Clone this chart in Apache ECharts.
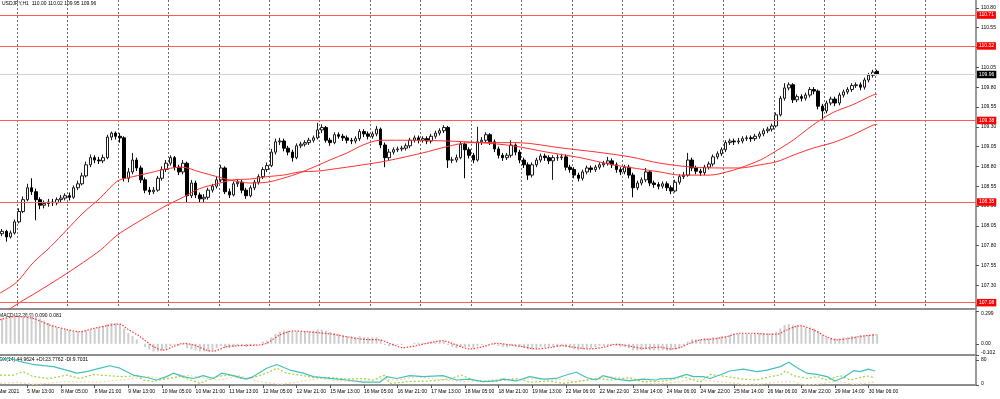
<!DOCTYPE html>
<html><head><meta charset="utf-8">
<script src="https://cdn.jsdelivr.net/npm/echarts@6/dist/echarts.min.js"></script>
<style>html,body{margin:0;padding:0;background:#fff;}#c{width:1000px;height:399px;}</style>
</head><body><div id="c"></div>
<script>
// ---------- texts ----------
const symbolTitle = 'USDJPY,H1  110.00 110.02 109.95 109.96';
const macdTitle = 'MACD(12,26,9) 0.090 0.081';
const dmiTitle = 'ADX(14) 44.9624 +DI:23.7762 -DI:9.7031';
const firstDateLabel = '4 Mar 2021';
const tickLabels = ["5 Mar 13:00","8 Mar 05:00","8 Mar 21:00","9 Mar 13:00","10 Mar 05:00","10 Mar 21:00","11 Mar 13:00","12 Mar 05:00","12 Mar 21:00","15 Mar 13:00","16 Mar 05:00","16 Mar 21:00","17 Mar 13:00","18 Mar 05:00","18 Mar 21:00","19 Mar 13:00","22 Mar 06:00","22 Mar 22:00","23 Mar 14:00","24 Mar 06:00","24 Mar 22:00","25 Mar 14:00","26 Mar 06:00","26 Mar 22:00","29 Mar 14:00","30 Mar 06:00"];
const priceTicks = [107.05,107.30,107.55,107.80,108.05,108.30,108.55,108.80,109.05,109.30,109.55,109.80,110.05,110.30,110.55,110.80];
const macdTicks = [-0.102, 0, 0.299];
const dmiTicks = [0, 80];
const levels = [110.71, 110.32, 109.38, 108.35, 107.08];
const lastPrice = 109.96;

// ---------- price candles (2-hour slots) ----------
const opens = [107.95,107.98,107.91,107.96,108.10,108.23,108.38,108.53,108.48,108.38,
108.31,108.33,108.35,108.34,108.38,108.40,108.43,108.41,108.53,108.58,
108.68,108.82,108.91,108.88,108.87,108.91,109.17,109.22,109.18,109.16,
108.65,108.73,108.88,108.78,108.63,108.50,108.48,108.50,108.65,108.76,
108.84,108.91,108.79,108.73,108.84,108.43,108.59,108.44,108.39,108.41,
108.50,108.55,108.63,108.78,108.48,108.44,108.58,108.60,108.50,108.43,
108.53,108.60,108.67,108.76,108.81,108.98,109.11,109.12,109.03,108.98,
108.91,109.06,109.08,109.10,109.13,109.16,109.26,109.29,109.13,109.10,
109.20,109.18,109.16,109.13,109.12,109.15,109.24,109.21,109.18,109.21,
109.27,109.07,108.91,108.98,109.01,109.02,109.03,109.06,109.13,109.16,
109.13,109.15,109.12,109.18,109.22,109.25,109.29,108.88,108.88,108.91,
109.08,109.01,108.94,108.88,109.11,109.13,109.20,109.11,109.02,108.94,
108.91,108.94,109.07,108.98,108.88,108.82,108.69,108.82,108.88,108.93,
108.91,108.87,108.91,108.91,108.92,108.79,108.76,108.69,108.65,108.73,
108.78,108.76,108.79,108.82,108.84,108.87,108.82,108.76,108.73,108.79,
108.69,108.53,108.59,108.63,108.73,108.59,108.57,108.55,108.58,108.53,
108.49,108.60,108.67,108.69,108.88,108.78,108.74,108.72,108.79,108.83,
108.92,108.96,109.01,109.10,109.12,109.11,109.12,109.15,109.16,109.15,
109.18,109.21,109.25,109.27,109.31,109.45,109.66,109.79,109.83,109.64,
109.68,109.66,109.70,109.77,109.75,109.56,109.50,109.60,109.65,109.60,
109.70,109.74,109.77,109.82,109.83,109.80,109.89,109.95,110.00];
const closes = [107.98,107.91,107.96,108.10,108.23,108.38,108.53,108.48,108.38,108.31,
108.33,108.35,108.34,108.38,108.40,108.43,108.41,108.53,108.58,108.68,
108.82,108.91,108.88,108.87,108.91,109.17,109.22,109.18,109.16,108.65,
108.73,108.88,108.78,108.63,108.50,108.48,108.50,108.65,108.76,108.84,
108.91,108.79,108.73,108.84,108.43,108.59,108.44,108.39,108.41,108.50,
108.55,108.63,108.78,108.48,108.44,108.58,108.60,108.50,108.43,108.53,
108.60,108.67,108.76,108.81,108.98,109.11,109.12,109.03,108.98,108.91,
109.06,109.08,109.10,109.13,109.16,109.26,109.29,109.13,109.10,109.20,
109.18,109.16,109.13,109.12,109.15,109.24,109.21,109.18,109.21,109.27,
109.07,108.91,108.98,109.01,109.02,109.03,109.06,109.13,109.16,109.13,
109.15,109.12,109.18,109.22,109.25,109.29,108.88,108.88,108.91,109.08,
109.01,108.94,108.88,109.11,109.13,109.20,109.11,109.02,108.94,108.91,
108.94,109.07,108.98,108.88,108.82,108.69,108.82,108.88,108.93,108.91,
108.87,108.91,108.91,108.92,108.79,108.76,108.69,108.65,108.73,108.78,
108.76,108.79,108.82,108.84,108.87,108.82,108.76,108.73,108.79,108.69,
108.53,108.59,108.63,108.73,108.59,108.57,108.55,108.58,108.53,108.49,
108.60,108.67,108.69,108.88,108.78,108.74,108.72,108.79,108.83,108.92,
108.96,109.01,109.10,109.12,109.11,109.12,109.15,109.16,109.15,109.18,
109.21,109.25,109.27,109.31,109.45,109.66,109.79,109.83,109.64,109.68,
109.66,109.70,109.77,109.75,109.56,109.50,109.60,109.65,109.60,109.70,
109.74,109.77,109.82,109.83,109.80,109.89,109.95,109.99,109.96];
const lows = [107.92,107.85,107.89,107.94,108.08,108.21,108.36,108.44,108.12,108.26,
108.27,108.29,108.30,108.31,108.34,108.37,108.37,108.39,108.50,108.56,
108.66,108.79,108.84,108.83,108.84,108.89,109.13,109.14,109.10,108.61,
108.60,108.70,108.74,108.59,108.46,108.44,108.45,108.48,108.62,108.73,
108.81,108.75,108.69,108.70,108.34,108.40,108.40,108.35,108.35,108.38,
108.47,108.52,108.60,108.45,108.40,108.42,108.54,108.46,108.39,108.41,
108.50,108.57,108.64,108.73,108.79,108.95,109.07,108.99,108.94,108.86,
108.89,109.03,109.05,109.07,109.10,109.14,109.22,109.10,109.06,109.08,
109.15,109.12,109.09,109.08,109.09,109.12,109.17,109.14,109.15,109.18,
109.03,108.79,108.88,108.95,108.98,108.99,109.00,109.03,109.10,109.09,
109.10,109.08,109.09,109.15,109.19,109.22,108.78,108.84,108.85,108.89,
108.65,108.90,108.84,108.86,109.07,109.10,109.07,108.98,108.90,108.87,
108.88,108.91,108.94,108.84,108.78,108.63,108.66,108.79,108.85,108.87,
108.83,108.63,108.87,108.88,108.75,108.72,108.65,108.61,108.62,108.70,
108.72,108.73,108.76,108.79,108.81,108.78,108.72,108.69,108.70,108.65,
108.41,108.50,108.56,108.60,108.55,108.53,108.51,108.52,108.49,108.45,
108.47,108.57,108.64,108.67,108.74,108.70,108.68,108.69,108.76,108.80,
108.89,108.93,108.98,109.07,109.07,109.08,109.09,109.12,109.11,109.12,
109.15,109.18,109.22,109.24,109.29,109.43,109.63,109.76,109.60,109.61,
109.62,109.63,109.67,109.71,109.52,109.39,109.47,109.57,109.56,109.57,
109.67,109.71,109.74,109.79,109.76,109.77,109.86,109.92,109.95];
const highs = [108.01,108.00,107.99,108.13,108.27,108.42,108.58,108.65,108.52,108.41,
108.37,108.39,108.39,108.41,108.44,108.46,108.47,108.56,108.62,108.72,
108.86,108.95,108.94,108.92,108.95,109.20,109.24,109.24,109.22,109.18,
108.78,108.97,108.91,108.81,108.66,108.54,108.54,108.68,108.80,108.88,
108.94,108.93,108.82,108.88,108.86,108.63,108.62,108.47,108.45,108.53,
108.58,108.67,108.82,108.80,108.52,108.61,108.64,108.63,108.53,108.56,
108.63,108.70,108.79,108.85,109.02,109.15,109.16,109.15,109.06,109.01,
109.09,109.11,109.13,109.16,109.19,109.35,109.33,109.31,109.16,109.23,
109.23,109.21,109.19,109.16,109.18,109.27,109.27,109.24,109.24,109.31,
109.29,109.10,109.02,109.04,109.05,109.06,109.09,109.16,109.19,109.19,
109.18,109.18,109.21,109.25,109.28,109.32,109.31,108.92,108.95,109.11,
109.10,109.04,108.97,109.30,109.17,109.23,109.22,109.14,109.05,108.97,
108.97,109.13,109.09,109.01,108.91,108.85,108.85,108.91,108.96,108.96,
108.94,108.94,108.95,108.96,108.95,108.82,108.79,108.72,108.76,108.81,
108.81,108.82,108.85,108.87,108.92,108.90,108.85,108.79,108.82,108.82,
108.72,108.62,108.66,108.78,108.75,108.62,108.60,108.61,108.61,108.56,
108.63,108.70,108.73,108.97,108.91,108.81,108.77,108.82,108.86,108.95,
108.99,109.04,109.13,109.15,109.15,109.16,109.18,109.19,109.19,109.21,
109.24,109.28,109.30,109.34,109.48,109.69,109.85,109.86,109.85,109.71,
109.71,109.73,109.80,109.80,109.77,109.59,109.63,109.68,109.68,109.73,
109.77,109.80,109.85,109.86,109.86,109.92,109.98,110.02,110.02];

// ---------- moving averages: [slot, price] ----------
const maFast = [[-0.5,107.20],[3.5,107.34],[7.3,107.58],[11.4,107.78],[15.4,108.00],[19.2,108.21],[23.3,108.40],[26.4,108.57],[28,108.63],[31.1,108.67],[35.2,108.72],[39.2,108.77],[42.8,108.79],[47,108.73],[51.1,108.67],[54.9,108.62],[58.9,108.59],[63,108.60],[66.8,108.65],[70.8,108.72],[74.9,108.81],[77.9,108.88],[82,108.97],[85.8,109.07],[89.8,109.13],[97.7,109.13],[105.8,109.12],[113.6,109.10],[121.4,109.06],[129.5,108.98],[137.4,108.91],[145.2,108.82],[156.4,108.73],[161.1,108.69],[168.3,108.69],[172.3,108.73],[175.4,108.78],[180.2,108.88],[183.2,108.97],[188,109.13],[192.7,109.32],[197.5,109.48],[202.3,109.58],[207,109.70],[208,109.71]];
const maSlow = [[-0.5,106.92],[5,107.11],[7.3,107.18],[15.4,107.45],[23.3,107.74],[27.3,107.93],[31.1,108.06],[35.2,108.19],[39.2,108.31],[43,108.41],[47,108.52],[51.1,108.58],[54.9,108.63],[58.9,108.64],[63,108.67],[66.8,108.69],[70.8,108.73],[74.9,108.74],[77.9,108.76],[85.8,108.82],[91.5,108.87],[100,108.97],[105.8,109.05],[111.2,109.10],[117.6,109.10],[122.4,109.10],[133.3,109.03],[141.4,108.98],[149.3,108.92],[156.4,108.84],[164.2,108.79],[170.6,108.78],[175.4,108.78],[180.2,108.82],[184.2,108.86],[188,108.94],[192.7,109.03],[197.5,109.10],[202.3,109.20],[207,109.32],[208,109.33]];

// ---------- MACD ----------
const macdMain = [0.23,0.23,0.24,0.25,0.25,0.26,0.27,0.27,
0.25,0.23,0.21,0.19,0.17,0.15,0.14,0.13,
0.12,0.11,0.11,0.11,0.12,
0.13,0.14,0.15,0.16,0.18,0.19,0.19,0.18,
0.14,0.10,0.07,0.04,
0.00,-0.03,-0.05,-0.07,-0.07,-0.06,
-0.04,-0.02,-0.01,-0.02,-0.01,-0.04,
-0.05,-0.06,-0.07,-0.07,-0.07,-0.06,
-0.04,-0.02,-0.04,-0.04,-0.03,
-0.02,-0.02,-0.03,-0.02,-0.01,0.00,0.02,0.03,
0.06,0.09,0.11,0.12,
0.12,0.11,0.11,0.11,0.11,0.11,0.12,0.13,0.13,0.12,0.11,
0.10,0.09,0.08,0.07,0.07,0.06,0.07,0.06,0.06,0.06,0.06,0.04,
-0.01,-0.02,-0.02,
-0.01,-0.01,0.00,0.00,0.01,0.01,0.01,0.01,0.02,0.02,0.03,0.03,
-0.01,-0.03,-0.04,-0.03,
-0.03,-0.03,-0.04,-0.02,-0.01,0.00,0.00,-0.01,-0.02,-0.03,-0.03,-0.02,-0.02,-0.03,-0.04,-0.05,
-0.05,-0.04,-0.03,-0.03,-0.03,-0.03,-0.02,-0.02,-0.03,-0.04,-0.05,-0.06,-0.05,-0.04,-0.04,-0.03,-0.02,-0.02,-0.01,-0.01,-0.02,-0.03,-0.03,-0.04,-0.06,-0.06,-0.06,-0.05,-0.06,-0.06,-0.06,
-0.06,-0.06,-0.06,-0.05,-0.04,
-0.02,0.02,0.04,
0.04,0.04,0.05,0.05,0.06,0.06,0.07,0.07,
0.08,0.09,0.09,0.09,0.09,0.09,0.09,0.10,0.10,0.10,0.10,0.11,
0.14,0.17,
0.18,0.17,0.17,0.16,
0.15,0.14,0.14,
0.11,0.08,0.06,0.05,
0.05,0.05,0.06,
0.06,0.07,0.07,0.08,0.08,0.08,0.09,0.09];
const macdSignal = [[-0.5,0.22],[3.5,0.25],[7.4,0.23],[11.4,0.17],[15.4,0.13],[18.5,0.11],[21.7,0.14],[24.9,0.165],[28,0.18],[29.6,0.14],[32.8,0.065],[36,-0.026],[38.3,-0.057],[40.7,-0.026],[43.1,0.005],[45.5,-0.01],[48.6,-0.057],[50.2,-0.066],[53.4,-0.026],[56.5,-0.017],[61.3,-0.01],[62.9,0.005],[66,0.08],[69.2,0.117],[72.4,0.11],[77.9,0.09],[81.8,0.065],[85.8,0.041],[89.8,0.035],[92.1,0.005],[95.3,-0.035],[98.5,-0.017],[101.6,0.01],[104.8,0.028],[106.4,0.012],[109.5,-0.032],[111.1,-0.047],[114.3,-0.026],[117.5,0.005],[120.6,-0.01],[123.8,-0.026],[127,-0.047],[130.1,-0.035],[133.3,-0.017],[136.5,-0.035],[139.6,-0.047],[142.8,-0.032],[146,-0.005],[149.1,-0.02],[152.3,-0.041],[156.4,-0.03],[158.8,-0.047],[161.1,-0.035],[163.5,0.005],[165.9,0.035],[169.1,0.044],[172.2,0.065],[175.4,0.096],[178.6,0.096],[181.8,0.087],[184.1,0.087],[186.5,0.126],[189.7,0.165],[192.9,0.126],[196,0.065],[198.4,0.035],[201.5,0.05],[204.7,0.071],[207.7,0.081]];

// ---------- ADX / DMI ----------
const adx = [[-0.5,80],[1.9,86],[4.3,75],[7.4,66],[9.8,62],[12.2,59],[15.3,48],[17.7,38],[20.1,43],[23.3,54],[25.6,62],[28,54],[31.2,32],[34.4,24],[36.7,16],[39.1,27],[40.7,38],[43.1,27],[45.5,21],[47.8,30],[50.2,21],[52.2,38],[55,30],[58.1,19],[59.7,27],[62.9,54],[65.3,66],[68.4,48],[71.6,38],[74,27],[77.9,21],[81.9,16],[85.8,9],[89.8,9],[91.4,27],[93.8,21],[96.9,30],[100.1,27],[104.8,30],[108,16],[111.1,19],[114.3,11],[117.5,13],[119.1,19],[122.2,13],[125.4,27],[128.6,19],[131.7,21],[134.1,32],[136.5,41],[138.9,24],[141.2,16],[142.8,30],[146,19],[149.1,13],[152.3,19],[155.5,16],[156.4,20],[159.6,21],[162.7,34],[164.3,27],[166.7,27],[168.3,21],[170.6,32],[173,45],[176.2,51],[179.4,43],[181.8,48],[185,59],[187,73],[188.9,56],[191.3,38],[193.7,34],[196.1,27],[198,13],[200,24],[202.4,46],[204,43],[205.9,51],[207.5,45]];
const plusDI = [[-0.5,32],[2.7,32],[5,43],[7.4,27],[11.4,21],[15.3,32],[18.5,21],[21.7,34],[24.9,30],[28.8,27],[32,30],[33.6,16],[36,11],[39.1,21],[42.3,27],[45.5,13],[47,5],[51,27],[54.2,32],[57.3,19],[59.7,24],[62.9,38],[65.3,54],[67.6,38],[70.8,32],[74,24],[77.9,24],[81.9,19],[85.8,21],[88.2,16],[91,32],[92.1,5],[96.9,11],[101.6,13],[106.4,19],[109.1,32],[111.9,16],[115.1,11],[119.8,16],[122.2,21],[125.4,9],[130.1,13],[133.3,5],[136.5,11],[141.2,21],[145.2,16],[149.1,24],[152.3,11],[156.4,12],[158.8,16],[161.9,27],[164.3,16],[165.9,9],[168.3,34],[172.2,27],[176.2,19],[179.4,16],[182.6,27],[185,32],[186.2,45],[188.1,30],[191.3,21],[193.7,27],[196.1,16],[199.2,30],[201.6,16],[204,24],[205.5,29],[207.5,23.8]];
const minusDI = [[-0.5,5],[3.5,9],[7.4,2],[15.3,11],[23.3,9],[31.2,21],[35.2,27],[39.1,19],[43.9,32],[48.6,21],[51.8,16],[56.5,30],[61.3,11],[66,2],[70.8,11],[75.6,21],[78,16],[82.7,11],[89.8,19],[93.8,16],[98.5,27],[101.6,21],[109.5,11],[114.3,13],[119.1,21],[122.2,16],[127,21],[130.1,16],[133.3,19],[136.5,9],[141.2,19],[144.4,27],[149.1,19],[153.9,5],[156.4,4],[160.4,9],[164.3,19],[168.3,13],[172.2,9],[176.2,2],[180.2,3],[184.1,9],[188.1,11],[190.5,1],[193.7,2],[197.7,11],[200,9],[202.4,2],[204.8,5],[207.5,9.7]];

// ---------- layout helpers ----------
const slotCount = 232;          // 2-hour slots across the plot width (incl. right shift)
const firstTickSlot = 6, tickStep = 8;
const gridLineStart = 4, gridLineStep = 12;
const categories = Array.from({length: slotCount}, (_, i) => String(i));
const isTick = i => i >= firstTickSlot && (i - firstTickSlot) % tickStep === 0 && (i - firstTickSlot) / tickStep < tickLabels.length;
const FONT = 'Liberation Sans';
const axisGray = '#8e8e8e';

const chart = echarts.init(document.getElementById('c'), null, {renderer: 'canvas'});
const catAxis = (g, extra) => Object.assign({
  type: 'category', gridIndex: g, data: categories, boundaryGap: true,
  axisLine: {show: true, onZero: false, lineStyle: {color: axisGray, width: 2}},
  axisTick: {show: false}, axisLabel: {show: false}, splitLine: {show: false}
}, extra || {});
const valAxis = g => ({type: 'value', gridIndex: g, min: -0.5, max: slotCount - 0.5, show: false});
const yBase = {
  type: 'value', position: 'right',
  axisLine: {show: true, onZero: false, lineStyle: {color: '#9a9a9a', width: 2}},
  splitLine: {show: false},
  axisTick: {show: true, length: 3, lineStyle: {color: '#555'}},
};

const option = {
  animation: false,
  backgroundColor: '#ffffff',
  textStyle: {fontFamily: FONT},
  grid: [
    {left: 0, top: 0, width: 976, height: 309},
    {left: 0, top: 311, width: 976, height: 44},
    {left: 0, top: 357, width: 976, height: 28}
  ],
  xAxis: [
    catAxis(0, {splitLine: {show: true, interval: i => i >= gridLineStart && (i - gridLineStart) % gridLineStep === 0,
      lineStyle: {color: '#6a6a6a', type: [2, 2], width: 1}}}),
    valAxis(0),
    catAxis(1),
    valAxis(1),
    catAxis(2, {
      axisTick: {show: true, alignWithLabel: true, interval: i => isTick(i), length: 3, lineStyle: {color: '#555'}},
      axisLabel: {show: true, interval: i => isTick(i), align: 'left', margin: 4, fontSize: 5, color: '#000', fontFamily: FONT,
        formatter: (v, i) => tickLabels[(i - firstTickSlot) / tickStep] || ''}
    }),
    valAxis(2)
  ],
  yAxis: [
    Object.assign({}, yBase, {gridIndex: 0, min: 107.00, max: 110.90,
      axisTick: Object.assign({}, yBase.axisTick, {customValues: priceTicks}),
      axisLabel: {customValues: priceTicks, formatter: v => v.toFixed(2), fontSize: 5, color: '#000', margin: 5, fontFamily: FONT}}),
    Object.assign({}, yBase, {gridIndex: 1, min: -0.102, max: 0.299,
      axisTick: Object.assign({}, yBase.axisTick, {customValues: macdTicks}),
      axisLabel: {customValues: macdTicks, fontSize: 5, color: '#000', margin: 5, fontFamily: FONT,
        formatter: v => v > 0.2 ? '{t|0.299}' : (v < -0.05 ? '{b|-0.102}' : '0.00'),
        rich: {t: {fontSize: 5, padding: [6, 0, 0, 0]}, b: {fontSize: 5, padding: [0, 0, 5, 0]}}}}),
    Object.assign({}, yBase, {gridIndex: 2, min: 0, max: 90,
      axisTick: Object.assign({}, yBase.axisTick, {customValues: dmiTicks}),
      axisLabel: {customValues: dmiTicks, fontSize: 5, color: '#000', margin: 5, fontFamily: FONT,
        formatter: v => v === 0 ? '{b|0}' : String(v), rich: {b: {fontSize: 5, padding: [0, 0, 2, 0]}}}})
  ],
  graphic: [
    {type: 'text', x: 2, y: 1.5, style: {text: symbolTitle, fontSize: 5, fontFamily: FONT, fill: '#000'}},
    {type: 'text', x: -1, y: 313.5, style: {text: macdTitle, fontSize: 5, fontFamily: FONT, fill: '#000'}},
    {type: 'text', x: -4, y: 357.5, style: {text: dmiTitle, fontSize: 5, fontFamily: FONT, fill: '#000'}},
    {type: 'text', x: -6, y: 389.5, style: {text: firstDateLabel, fontSize: 5, fontFamily: FONT, fill: '#000'}}
  ],
  series: [
    {
      type: 'candlestick', xAxisIndex: 0, yAxisIndex: 0, barWidth: 3,
      data: opens.map((o, i) => [o, closes[i], lows[i], highs[i]]),
      itemStyle: {color: '#ffffff', color0: '#000000', borderColor: '#1a1a1a', borderColor0: '#000000', borderWidth: 1},
      markLine: {
        symbol: ['none', 'none'], silent: true, animation: false,
        label: {show: true, position: 'end', distance: 1, color: '#fff', fontSize: 5, fontFamily: FONT,
          padding: [1.5, 2, 1, 2], formatter: p => Number(p.value).toFixed(2)},
        data: levels.map(v => ({yAxis: v, lineStyle: {color: '#ff5a5a', width: 1.2, type: 'solid'},
                                label: {backgroundColor: '#ff0000'}}))
          .concat([{yAxis: lastPrice, lineStyle: {color: '#d2d2d2', width: 1, type: 'solid'},
                    label: {backgroundColor: '#000000'}}])
      }
    },
    {type: 'line', xAxisIndex: 1, yAxisIndex: 0, data: maFast, showSymbol: false, smooth: 0.3,
      lineStyle: {color: '#ff3030', width: 1}, z: 3},
    {type: 'line', xAxisIndex: 1, yAxisIndex: 0, data: maSlow, showSymbol: false, smooth: 0.3,
      lineStyle: {color: '#ff3030', width: 1}, z: 3},
    {type: 'bar', xAxisIndex: 2, yAxisIndex: 1, data: macdMain, barWidth: 2,
      itemStyle: {color: '#cdcdcd'}},
    {type: 'line', xAxisIndex: 3, yAxisIndex: 1, data: macdSignal, showSymbol: false, smooth: 0.3,
      lineStyle: {color: '#ff3a3a', width: 1.2, type: [1.5, 1.5]}},
    {type: 'line', xAxisIndex: 5, yAxisIndex: 2, data: minusDI, showSymbol: false,
      lineStyle: {color: '#f5d7a8', width: 1.2, type: [2, 2]}},
    {type: 'line', xAxisIndex: 5, yAxisIndex: 2, data: plusDI, showSymbol: false,
      lineStyle: {color: '#a5d23c', width: 1.2, type: [2, 2]}},
    {type: 'line', xAxisIndex: 5, yAxisIndex: 2, data: adx, showSymbol: false,
      lineStyle: {color: '#45c0bc', width: 1.2}}
  ]
};
chart.setOption(option);
</script></body></html>
